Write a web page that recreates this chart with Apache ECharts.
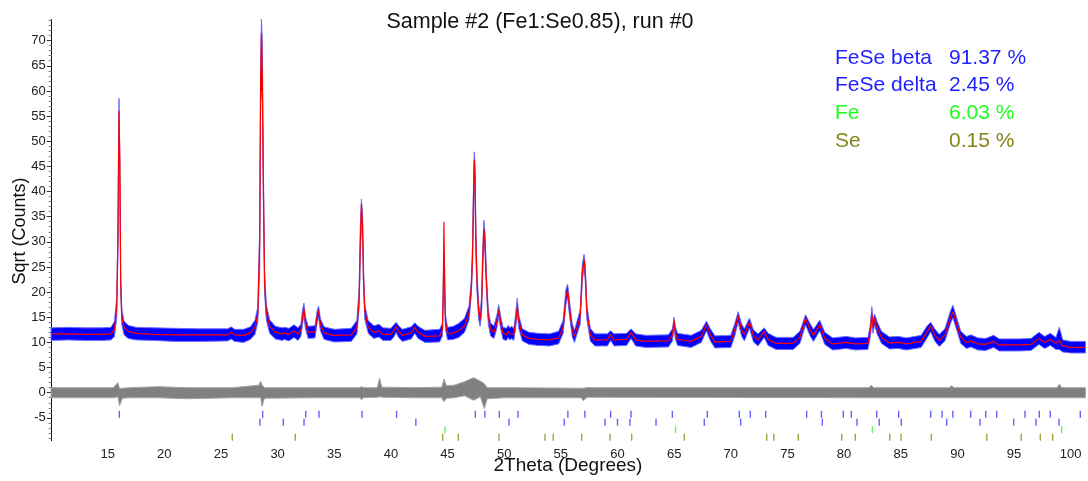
<!DOCTYPE html>
<html>
<head>
<meta charset="utf-8">
<script src="https://cdn.jsdelivr.net/npm/echarts@6.0.0/dist/echarts.min.js"></script>
<style>
html, body { margin: 0; padding: 0; background: #fff; }
#main { width: 1088px; height: 481px; }
</style>
</head>
<body>
<div id="main"></div>
<script>
// calculated profile, [2theta, sqrt(counts)]
var calcProfile = [
  [10.0,11.7],[11.5,11.7],[13.0,11.6],[14.5,11.6],[15.3,11.7],[15.6,12.6],[15.8,17.0],[15.9,30],[16.0,56],[16.08,45],
  [16.15,22],[16.25,15],[16.45,13],[16.8,12.2],[17.5,11.8],[19.0,11.6],[21.0,11.5],[23.0,11.5],[25.6,11.5],[25.9,12.0],
  [26.2,11.5],[27.0,11.4],[27.6,11.9],[28.0,13.0],[28.25,15.5],[28.42,30],[28.5,62],[28.57,71.5],[28.65,62],[28.75,40],
  [28.85,22],[29.0,16],[29.3,13.2],[29.8,12.0],[30.4,11.7],[30.6,11.9],[31.0,11.6],[31.45,12.3],[31.8,11.7],[32.05,12.4],
  [32.2,15],[32.32,16.8],[32.45,14],[32.7,12],[33.3,12.1],[33.5,15.2],[33.62,16.3],[33.78,13.5],[34.1,11.9],[35.0,11.4],
  [36.5,11.5],[37.0,13],[37.2,19],[37.3,30],[37.4,37.5],[37.5,33],[37.58,23],[37.7,16],[38.0,13],[38.5,12.0],
  [38.95,12.3],[39.3,11.6],[40.0,11.6],[40.3,12.4],[40.47,13.2],[40.65,12.3],[41.0,11.4],[41.8,11.9],[42.1,13.0],[42.4,12.0],
  [43.0,11.2],[44.3,11.3],[44.55,12.5],[44.62,20],[44.68,34],[44.74,22],[44.82,14],[45.0,11.8],[45.5,11.9],[46.0,12.3],
  [46.5,13.3],[46.9,15.8],[47.1,21],[47.2,27],[47.3,40],[47.36,46.3],[47.43,42],[47.5,30],[47.6,22],[47.75,16],
  [47.87,14.5],[48.0,17],[48.1,26],[48.2,32.6],[48.3,30],[48.45,21],[48.6,15],[48.8,12.6],[49.1,12.0],[49.35,14],
  [49.52,16.5],[49.68,14],[49.9,11.8],[50.2,11.6],[50.35,12.2],[50.5,11.7],[50.65,12.0],[50.85,11.6],[51.0,14],[51.15,17.1],
  [51.3,14],[51.6,11.5],[52.2,10.8],[53.0,10.6],[54.0,10.5],[54.8,10.9],[55.2,13],[55.45,19],[55.6,20.4],[55.75,17],
  [56.0,12.5],[56.2,11.2],[56.7,15],[56.9,24],[57.05,26.5],[57.15,24],[57.3,16],[57.6,11.5],[58.0,10.5],[59.1,10.5],
  [59.4,11.6],[59.7,10.5],[60.8,10.6],[61.2,12.0],[61.6,10.5],[62.5,10.2],[64.5,10.3],[64.85,11.5],[65.0,14.4],[65.1,12],
  [65.3,10.6],[66.5,10.2],[67.4,11.2],[67.85,13.5],[68.2,11.5],[68.6,10.1],[70.0,10.2],[70.35,12.5],[70.65,15.3],[70.95,12.5],
  [71.2,11.5],[71.65,14],[72.0,11.3],[72.4,10.5],[72.95,12.2],[73.3,10.6],[74.0,9.8],[75.5,9.8],[76.1,11],[76.6,14.8],
  [77.0,12.5],[77.3,11.4],[77.85,13.5],[78.3,10.8],[79.0,9.7],[80.2,10.0],[81.0,9.7],[82.1,9.8],[82.3,12],[82.45,15.8],
  [82.55,13],[82.7,14.8],[82.9,13],[83.3,11],[84.0,9.9],[84.8,10.0],[85.5,9.7],[86.8,10.2],[87.3,12],[87.65,13.3],
  [88.0,11.5],[88.4,10.4],[88.9,11.5],[89.4,15],[89.6,16.1],[89.9,14],[90.3,11],[90.8,10.0],[91.2,10.3],[91.8,9.7],
  [92.5,9.6],[93.2,10.2],[93.7,9.5],[95.5,9.5],[96.5,9.6],[97.2,10.8],[97.7,10.0],[98.2,10.6],[98.7,9.8],[99.0,10.4],
  [99.3,9.3],[100.0,9.0],[101.3,9.0]
];

// observed data spread, [2theta, low, high]
var obsBand = [
  [10.0,10.4,12.9],[11.5,10.5,13.0],[13.0,10.4,12.9],[14.5,10.4,12.9],[15.3,10.5,13.0],[15.6,11.2,14.2],[15.8,15.0,19.0],[15.9,27,32],[16.0,45,58.5],[16.08,40,46],
  [16.15,20,23],[16.25,13.5,16.5],[16.45,11.5,14.2],[16.8,10.8,13.4],[17.5,10.5,13.0],[19.0,10.4,12.9],[21.0,10.2,12.8],[23.0,10.2,12.7],[25.6,10.3,12.7],[25.9,10.7,13.1],
  [26.2,10.2,12.6],[27.0,10.0,12.6],[27.6,10.6,13.1],[28.0,11.6,14.4],[28.25,14,17],[28.42,25,33],[28.5,58,64],[28.57,60,74.2],[28.65,58,70],[28.75,36,44],
  [28.85,20,24],[29.0,14.5,17.5],[29.3,11.8,14.5],[29.8,10.7,13.2],[30.4,10.4,12.9],[30.6,10.6,13.0],[31.0,10.3,12.8],[31.45,11.0,13.5],[31.8,10.4,12.9],[32.05,11.2,13.6],
  [32.2,13.6,16.4],[32.32,15.5,17.8],[32.45,12.8,15.2],[32.7,10.8,13.2],[33.3,10.9,13.3],[33.5,14,16.4],[33.62,15,17.2],[33.78,12.3,14.7],[34.1,10.6,13.1],[35.0,10.1,12.6],
  [36.5,10.2,12.8],[37.0,11.7,14.4],[37.2,17,21],[37.3,27,33],[37.4,34,38.5],[37.5,30,35],[37.58,21,25],[37.7,14.6,17.4],[38.0,11.8,14.3],[38.5,10.8,13.3],
  [38.95,11.1,13.6],[39.3,10.4,12.9],[40.0,10.4,12.8],[40.3,11.2,13.6],[40.47,12.0,14.0],[40.65,11.1,13.4],[41.0,10.2,12.6],[41.8,10.7,13.1],[42.1,11.8,13.9],[42.4,10.8,13.2],
  [43.0,10.0,12.4],[44.3,10.1,12.6],[44.55,11.3,13.8],[44.62,18,22],[44.68,24,27],[44.74,18,25],[44.82,12.6,15.4],[45.0,10.5,13.0],[45.5,10.6,13.2],[46.0,11.0,13.8],
  [46.5,12.0,14.8],[46.9,14.5,17.3],[47.1,19.5,22.5],[47.2,25,29],[47.3,37,43],[47.36,44,47.9],[47.43,37,45],[47.5,27,33],[47.6,20,24],[47.75,14.6,17.5],
  [47.87,13.2,15.8],[48.0,15.5,19],[48.1,24,28],[48.2,30,34.3],[48.3,28,32],[48.45,19.5,22.8],[48.6,13.6,16.4],[48.8,11.3,13.8],[49.1,10.8,13.3],[49.35,12.8,15.4],
  [49.52,15.2,17.5],[49.68,12.8,15.3],[49.9,10.6,13.0],[50.2,10.4,12.8],[50.35,11.0,13.4],[50.5,10.5,12.9],[50.65,10.8,13.2],[50.85,10.4,12.8],[51.0,12.6,15.4],[51.15,15.8,18.8],
  [51.3,12.7,15.3],[51.6,10.3,12.7],[52.2,9.6,12.0],[53.0,9.4,11.8],[54.0,9.3,11.7],[54.8,9.7,12.2],[55.2,11.8,14.4],[55.45,17.6,20.5],[55.6,19,21.6],[55.75,15.6,18.5],
  [56.0,11.2,13.8],[56.2,10.0,12.4],[56.7,13.6,16.4],[56.9,22.5,25.6],[57.05,25,27.5],[57.15,22.5,25.5],[57.3,14.6,17.4],[57.6,10.3,12.8],[58.0,9.3,11.7],[59.1,9.3,11.7],
  [59.4,10.4,12.3],[59.7,9.3,11.7],[60.8,9.4,11.8],[61.2,10.8,12.7],[61.6,9.3,11.7],[62.5,9.0,11.4],[64.5,9.1,11.5],[64.85,10.3,12.7],[65.0,13.0,15.0],[65.1,10.8,13.2],
  [65.3,9.4,11.8],[66.5,9.0,11.4],[67.4,10.0,12.4],[67.85,12.3,14.2],[68.2,10.3,12.7],[68.6,8.9,11.3],[70.0,9.0,11.4],[70.35,11.3,13.7],[70.65,14.0,16.1],[70.95,11.3,13.7],
  [71.2,10.3,12.7],[71.65,12.8,14.8],[72.0,10.1,12.5],[72.4,9.3,11.7],[72.95,11.0,12.9],[73.3,9.4,11.8],[74.0,8.6,11.0],[75.5,8.6,11.0],[76.1,9.8,12.2],[76.6,13.5,15.5],
  [77.0,11.3,13.7],[77.3,10.2,12.6],[77.85,12.3,14.4],[78.3,9.6,12.0],[79.0,8.5,10.9],[80.2,8.8,11.2],[81.0,8.5,10.9],[82.1,8.6,11.0],[82.3,10.8,13.2],[82.45,14,17.1],
  [82.55,11.8,14.5],[82.7,13.5,15.6],[82.9,11.8,14.2],[83.3,9.8,12.2],[84.0,8.7,11.1],[84.8,8.8,11.2],[85.5,8.5,10.9],[86.8,9.0,11.4],[87.3,10.8,13.2],[87.65,12.1,14.0],
  [88.0,10.3,12.7],[88.4,9.2,11.6],[88.9,10.3,12.7],[89.4,13.8,16.3],[89.6,14.9,17.4],[89.9,12.8,15.2],[90.3,9.8,12.2],[90.8,8.8,11.2],[91.2,9.1,11.5],[91.8,8.5,10.9],
  [92.5,8.4,10.8],[93.2,9.0,11.4],[93.7,8.3,10.7],[95.5,8.3,10.7],[96.5,8.4,10.8],[97.2,9.6,12.0],[97.7,8.8,11.2],[98.2,9.4,11.8],[98.7,8.6,11.0],[99.0,8.6,13.0],
  [99.3,8.1,10.5],[100.0,7.9,10.2],[101.3,7.9,10.2]
];

// difference curve spread, [2theta, low, high]
var diffBand = [
  [10.0,-1.0,1.0],[15.5,-1.0,1.0],[15.9,-0.8,2.0],[16.05,-2.6,0.8],[16.3,-1.1,0.9],[17.0,-1.0,1.0],[19.5,-1.0,1.2],[22.0,-1.2,1.0],
  [26.0,-1.0,1.0],[28.35,-1.0,1.5],[28.5,-0.9,2.3],[28.62,-2.7,1.5],[28.85,-1.1,1.0],[33.0,-1.0,1.0],[37.3,-1.0,1.0],[37.4,-1.4,1.3],
  [37.55,-1.0,1.0],[38.8,-0.9,1.0],[39.0,-0.8,2.9],[39.2,-0.9,1.1],[42.0,-1.0,1.0],[44.5,-1.0,1.1],[44.68,-1.8,2.7],[44.9,-1.1,1.4],
  [45.6,-1.0,1.5],[46.5,-0.6,2.2],[47.3,-1.5,3.0],[47.9,-0.8,2.3],[48.25,-3.2,1.8],[48.5,-1.2,1.0],[50.0,-1.0,1.0],[56.8,-1.0,0.9],
  [57.0,-1.6,0.9],[57.3,-0.9,1.0],[82.2,-1.0,1.0],[82.4,-1.0,1.5],[82.6,-1.0,1.0],[89.3,-1.0,1.0],[89.5,-1.0,1.4],[89.7,-1.0,1.0],
  [98.8,-1.0,1.0],[99.0,-1.0,1.7],[99.2,-1.0,1.0],[101.3,-1.0,1.0]
];

// reflection positions per phase
var betaHkl = [16.03,28.68,32.48,33.65,37.45,40.5,47.45,48.3,49.57,51.22,55.62,57.12,59.4,61.19,64.84,67.93,70.75,71.72,73.08,76.7,78.0,79.93,80.64,82.88,84.82,87.65,88.65,89.6,91.18,92.5,93.47,95.97,97.23,98.2,100.85];
var deltaHkl = [28.44,30.5,32.33,42.2,50.42,55.3,58.9,60.0,61.1,63.4,67.66,70.87,78.08,81.14,83.1,85.05,89.06,92.0,94.97,96.94,98.97];
var feHkl = [44.77,65.12,82.5,99.2];
var seHkl = [26.0,31.56,44.57,45.95,49.54,53.6,54.33,56.84,59.34,61.25,65.9,73.17,73.8,75.96,79.79,80.99,84.03,85.02,87.7,92.6,95.64,97.32,98.41];

var phaseNames = ['FeSe beta', 'FeSe delta', 'Fe', 'Se'];
var phaseFractions = ['91.37 %', '2.45 %', '6.03 %', '0.15 %'];

var xTicks = [15,20,25,30,35,40,45,50,55,60,65,70,75,80,85,90,95,100];
var yTicks = [-5,0,5,10,15,20,25,30,35,40,45,50,55,60,65,70];

var FONT = '"Liberation Sans", Arial, sans-serif';
var phaseColors = ['#1f1fff', '#1f1fff', '#1cff1c', '#85851a'];
var tickColors = ['#3a3aff', '#3a3aff', '#44ee44', '#8c8c14'];
var tickRows = [-4.3, -5.85, -7.35, -8.85];

var X_MIN = 10.06, X_MAX = 101.3, Y_MIN = -9.54, Y_MAX = 74.2;

function minorOf(major, lo, hi) {
  var out = [];
  for (var v = Math.ceil(lo); v <= hi; v++) {
    if (major.indexOf(v) < 0) out.push(v);
  }
  return out;
}

function bandSeries(name, rows, fill, edge) {
  return {
    name: name,
    type: 'custom',
    xAxisIndex: 0, yAxisIndex: 0,
    silent: true,
    data: rows,
    renderItem: function (params, api) {
      if (params.dataIndex !== 0) return null;
      var pts = [];
      for (var i = 0; i < rows.length; i++) pts.push(api.coord([rows[i][0], rows[i][2]]));
      for (var j = rows.length - 1; j >= 0; j--) pts.push(api.coord([rows[j][0], rows[j][1]]));
      return {
        type: 'polygon',
        shape: { points: pts },
        style: { fill: fill, stroke: edge, lineWidth: 1 }
      };
    }
  };
}

function tickSeries(list, row, color) {
  return {
    type: 'scatter',
    xAxisIndex: 0, yAxisIndex: 0,
    silent: true,
    symbol: 'rect',
    symbolSize: [1.4, 7],
    itemStyle: { color: color },
    data: list.map(function (d) { return [d, tickRows[row]]; })
  };
}

var chart = echarts.init(document.getElementById('main'));

var graphics = [
  { type: 'text', x: 540, y: 22, style: { text: 'Sample #2 (Fe1:Se0.85), run #0', fill: '#111', fontSize: 21.5, fontFamily: FONT, align: 'center', verticalAlign: 'middle' } },
  { type: 'text', x: 20, y: 231, rotation: Math.PI / 2, style: { text: 'Sqrt (Counts)', fill: '#111', fontSize: 18, fontFamily: FONT, align: 'center', verticalAlign: 'middle' } },
  { type: 'text', x: 568, y: 466, style: { text: '2Theta (Degrees)', fill: '#111', fontSize: 19, fontFamily: FONT, align: 'center', verticalAlign: 'middle' } }
];
phaseNames.forEach(function (n, i) {
  var y = 58 + i * 27.7;
  graphics.push({ type: 'text', x: 835, y: y, style: { text: n, fill: phaseColors[i], fontSize: 21, fontFamily: FONT, verticalAlign: 'middle' } });
  graphics.push({ type: 'text', x: 949, y: y, style: { text: phaseFractions[i], fill: phaseColors[i], fontSize: 21, fontFamily: FONT, verticalAlign: 'middle' } });
});

var option = {
  animation: false,
  backgroundColor: '#fff',
  grid: { left: 51.7, right: 2.6, top: 19.5, bottom: 40.3, containLabel: false },
  xAxis: [{
    type: 'value', min: X_MIN, max: X_MAX, position: 'bottom',
    axisLine: { show: true, lineStyle: { color: '#555', width: 1 } },
    axisTick: { show: true, customValues: xTicks, length: 5, lineStyle: { color: '#555' } },
    axisLabel: { customValues: xTicks, color: '#222', fontSize: 13, fontFamily: FONT, margin: 7 },
    splitLine: { show: false }
  }, {
    type: 'value', min: X_MIN, max: X_MAX, position: 'bottom',
    axisLine: { show: false },
    axisTick: { show: true, customValues: minorOf(xTicks, X_MIN, X_MAX), length: 3, lineStyle: { color: '#777' } },
    axisLabel: { show: false },
    splitLine: { show: false }
  }],
  yAxis: [{
    type: 'value', min: Y_MIN, max: Y_MAX, position: 'left',
    axisLine: { show: true, lineStyle: { color: '#111', width: 1 } },
    axisTick: { show: true, customValues: yTicks, length: 5, lineStyle: { color: '#333' } },
    axisLabel: { customValues: yTicks, color: '#222', fontSize: 13, fontFamily: FONT, margin: 6 },
    splitLine: { show: false }
  }, {
    type: 'value', min: Y_MIN, max: Y_MAX, position: 'left',
    axisLine: { show: false },
    axisTick: { show: true, customValues: minorOf(yTicks, Y_MIN, Y_MAX), length: 3, lineStyle: { color: '#777' } },
    axisLabel: { show: false },
    splitLine: { show: false }
  }],
  graphic: graphics,
  series: [
    bandSeries('diff', diffBand, '#808080', '#a4a4a4'),
    bandSeries('obs', obsBand, '#0000ff', '#6c6cff'),
    {
      name: 'calc', type: 'line', xAxisIndex: 0, yAxisIndex: 0,
      data: calcProfile, showSymbol: false, symbol: 'none', silent: true, z: 5,
      lineStyle: { color: '#ff0000', width: 1.2 }
    },
    tickSeries(betaHkl, 0, tickColors[0]),
    tickSeries(deltaHkl, 1, tickColors[1]),
    tickSeries(feHkl, 2, tickColors[2]),
    tickSeries(seHkl, 3, tickColors[3])
  ]
};
chart.setOption(option);
</script>
</body>
</html>
